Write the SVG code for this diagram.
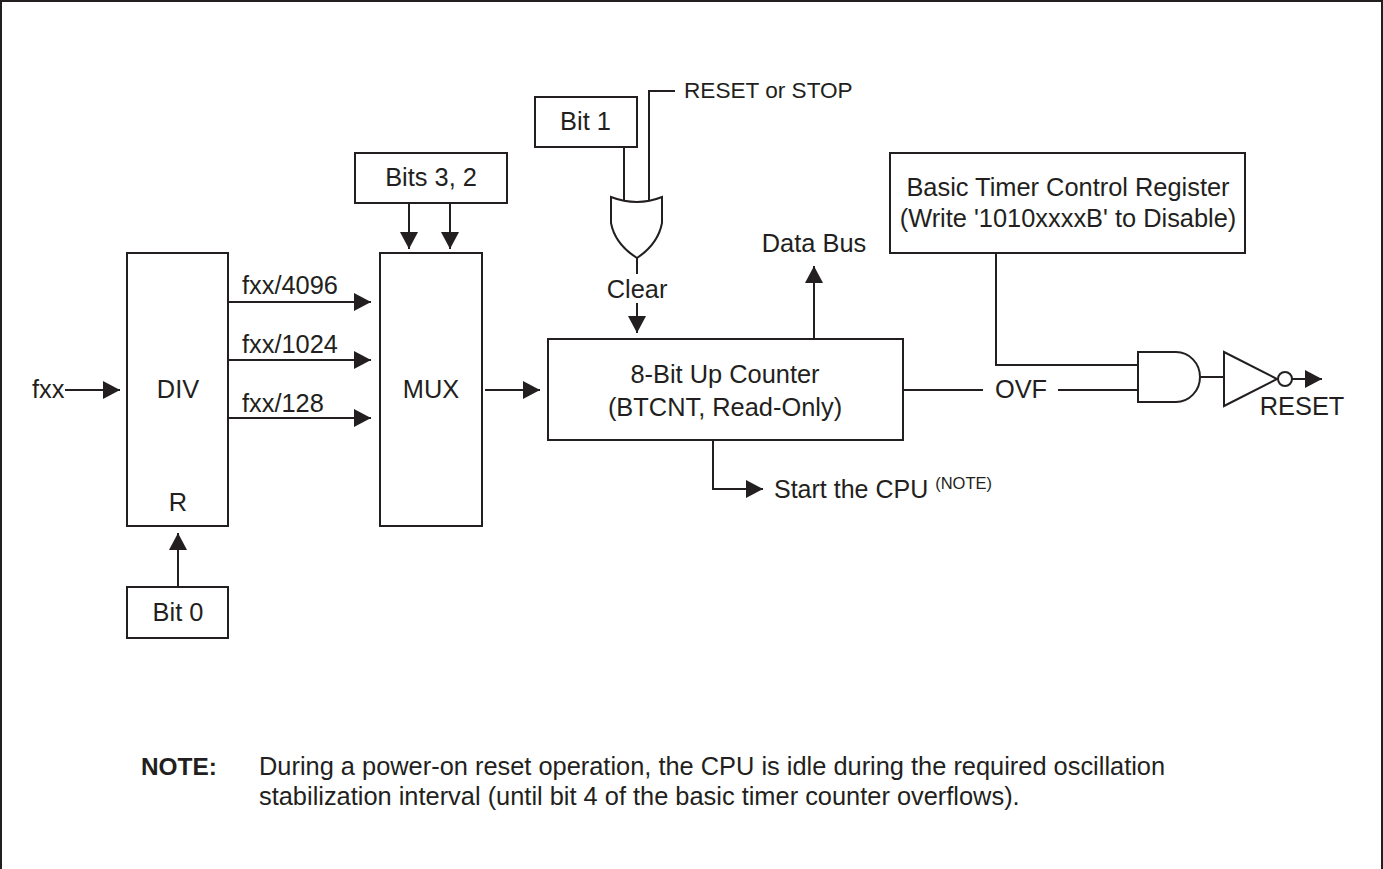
<svg xmlns="http://www.w3.org/2000/svg" width="1383" height="869" viewBox="0 0 1383 869">
<defs>
<style>
text{font-family:"Liberation Sans",Arial,sans-serif;font-size:25.4px;fill:#231f20}
.m{text-anchor:middle}
.s{font-size:22.600px}
.b{fill:#fff;stroke:#231f20;stroke-width:2}
.l{fill:none;stroke:#231f20;stroke-width:2}
.a{fill:none;stroke:#231f20;stroke-width:2;marker-end:url(#ah)}
</style>
<marker id="ah" markerUnits="userSpaceOnUse" markerWidth="18" markerHeight="18" refX="17" refY="9" orient="auto"><path d="M0 0L17 9L0 18Z" fill="#231f20"/></marker>
</defs>
<rect width="1383" height="869" fill="#fff"/>
<path d="M1 869V1H1382V869" class="l"/>
<g id="div"><rect class="b" x="127" y="253" width="101" height="273"/><text class="m" x="178" y="398">DIV</text><text class="m" x="178" y="511">R</text></g>
<g id="mux"><rect class="b" x="380" y="253" width="102" height="273"/><text class="m" x="431" y="398">MUX</text></g>
<g id="bit0"><rect class="b" x="127" y="587" width="101" height="51"/><text class="m" x="178" y="621">Bit 0</text></g>
<g id="bits32"><rect class="b" x="355" y="153" width="152" height="50"/><text class="m" x="431" y="186">Bits 3, 2</text></g>
<g id="bit1"><rect class="b" x="535" y="97" width="102" height="50"/><text class="m" x="585.500" y="130">Bit 1</text></g>
<g id="counter"><rect class="b" x="548" y="339" width="355" height="101"/><text class="m" x="725" y="383">8-Bit Up Counter</text><text class="m" x="725" y="416">(BTCNT, Read-Only)</text></g>
<g id="btcr"><rect class="b" x="890" y="153" width="355" height="100"/><text class="m" x="1068" y="196">Basic Timer Control Register</text><text class="m" x="1068" y="227">(Write '1010xxxxB' to Disable)</text></g>
<g id="orgate"><path class="b" d="M611 197Q637 207 662 197V223Q658 244 637 258Q615 244 611 223Z"/></g>
<g id="andgate"><path class="b" d="M1138 352H1176A24 25 0 0 1 1176 402H1138Z"/></g>
<g id="inverter"><path class="b" d="M1224 352L1277 379L1224 406Z"/><circle class="b" cx="1285" cy="379" r="7"/></g>
<g id="connectors">
<path class="a" d="M65 390H120"/>
<path class="a" d="M228 302H371"/>
<path class="a" d="M228 360H371"/>
<path class="a" d="M228 418H371"/>
<path class="a" d="M178 587V533"/>
<path class="a" d="M409 203V249"/>
<path class="a" d="M450 203V249"/>
<path class="a" d="M485 390H540"/>
<path class="l" d="M624 147V200M649 200V91H675"/>
<path class="l" d="M637 258V274"/>
<path class="a" d="M637 303V333"/>
<path class="a" d="M814 339V266"/>
<path class="a" d="M713 440V489H763"/>
<path class="l" d="M904 390H983M1058 390H1138M996 253V365H1138M1200 377H1224"/>
<path class="a" d="M1292 379H1322"/>
</g>
<g id="labels">
<text x="32" y="398">fxx</text>
<text x="242" y="294">fxx/4096</text>
<text x="242" y="353">fxx/1024</text>
<text x="242" y="412">fxx/128</text>
<text class="m" x="637" y="298">Clear</text>
<text x="684" y="98" class="s">RESET or STOP</text>
<text class="m" x="814" y="252">Data Bus</text>
<text x="774" y="498" style="font-size:25px">Start the CPU <tspan dy="-9" style="font-size:16.500px">(NOTE)</tspan></text>
<text class="m" x="1021" y="398">OVF</text>
<text class="m" x="1302" y="415">RESET</text>
<text x="141" y="775" style="font-weight:bold;font-size:24.400px">NOTE:</text>
<text x="259" y="775">During a power-on reset operation, the CPU is idle during the required oscillation</text>
<text x="259" y="805">stabilization interval (until bit 4 of the basic timer counter overflows).</text>
</g>
</svg>
